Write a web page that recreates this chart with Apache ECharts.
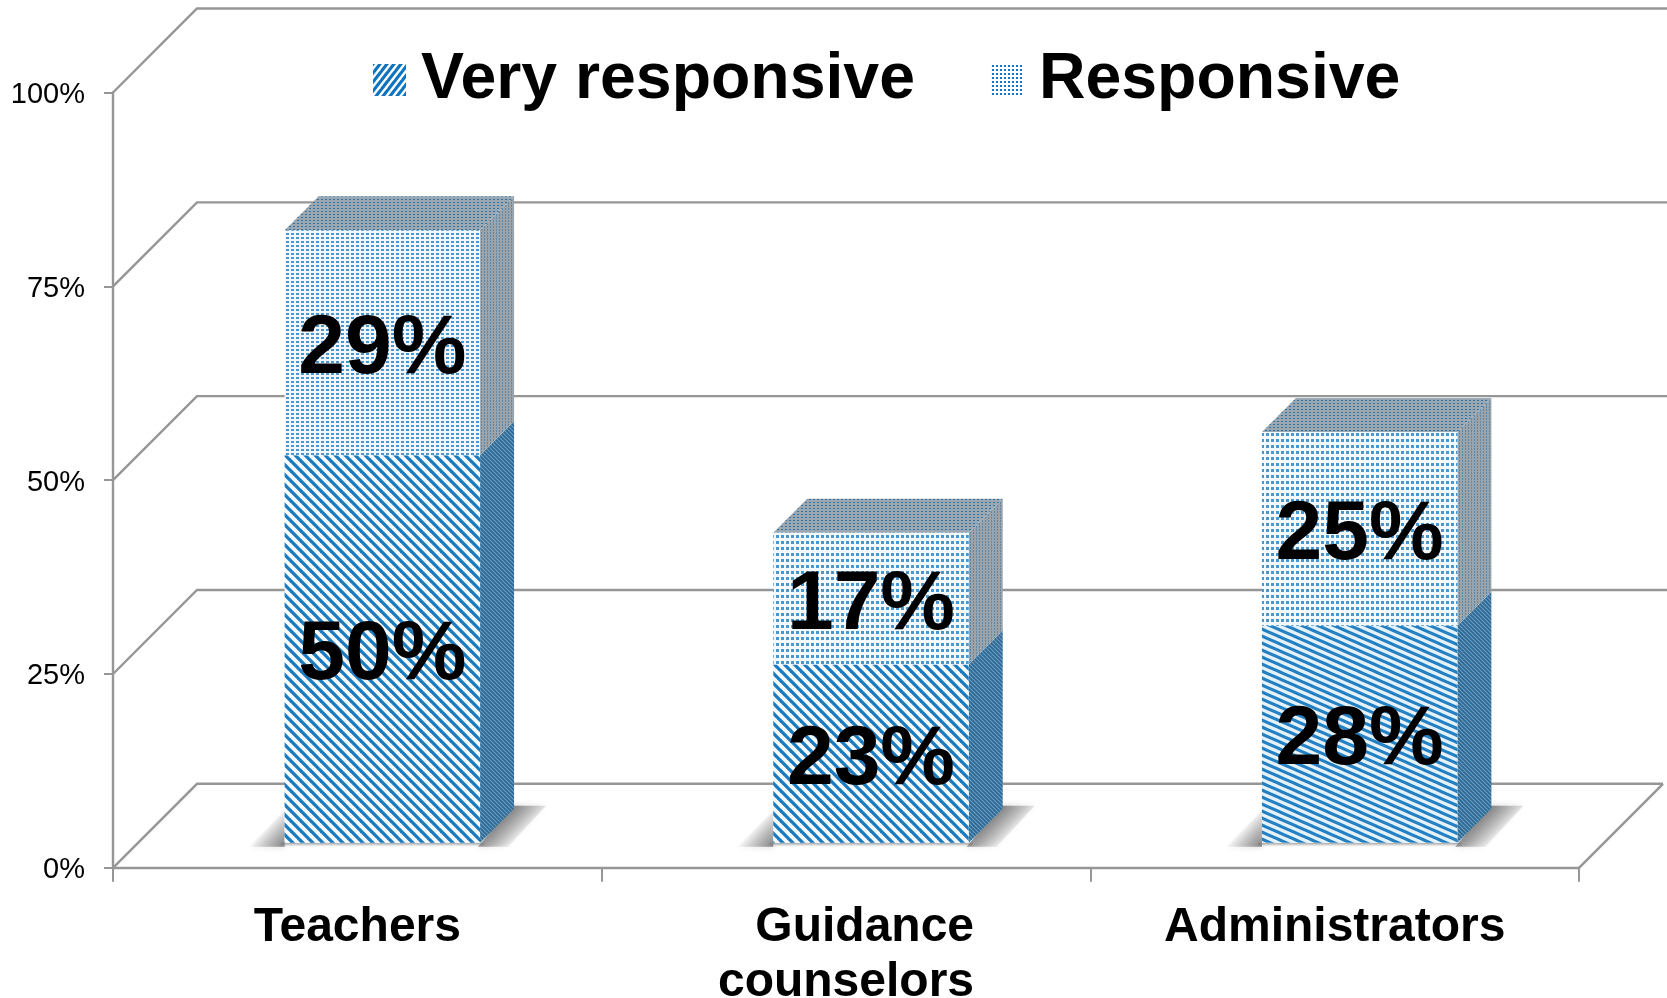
<!DOCTYPE html>
<html>
<head>
<meta charset="utf-8">
<title>Responsiveness</title>
<script src="https://cdn.jsdelivr.net/npm/echarts@6/dist/echarts.min.js"></script>
<style>
    html, body { margin: 0; padding: 0; background: #fff; }
    #chart { width: 1667px; height: 998px; }
</style>
</head>
<body>
<div id="chart"></div>
<script>
    const categories = ['Teachers', 'Guidance\ncounselors', 'Administrators']
    const veryResponsive = [50, 23, 28]
    const responsive = [29, 17, 25]
    const yTicks = [0, 25, 50, 75, 100]

    const FONT = '"Liberation Sans", Arial, sans-serif'
    const GREY = '#969696'
    const WALL_DEPTH = 84   // back wall offset
    const BAR_SHIFT = 25    // bars stand part way into the floor
    const BAR_DEPTH = 34

    // small repeating tiles for the hatched fills
    function tile(w, h, draw) {
        const c = document.createElement('canvas')
        c.width = w
        c.height = h
        draw(c.getContext('2d'), w, h)
        return { image: c, repeat: 'repeat' }
    }
    function stripes(w, h, color, back, lineW, dir) {
        return tile(w, h, (ctx) => {
            ctx.fillStyle = back
            ctx.fillRect(0, 0, w, h)
            ctx.strokeStyle = color
            ctx.lineWidth = lineW
            // lines run past the tile so the repeat has no seams
            for (let i = -3; i <= 3; i++) {
                ctx.beginPath()
                ctx.moveTo(i * w - dir * w, -h)
                ctx.lineTo(i * w + 2 * dir * w, 2 * h)
                ctx.stroke()
            }
        })
    }
    function dots(w, h, dotW, dotH, color, back) {
        return tile(w, h, (ctx) => {
            ctx.fillStyle = back
            ctx.fillRect(0, 0, w, h)
            ctx.fillStyle = color
            ctx.fillRect(1, 1, dotW, dotH)
        })
    }

    const lowerFront = [
        stripes(10, 10, '#1a7bc1', '#f6fafd', 3.3, 1),
        stripes(10, 10, '#1a7bc1', '#f6fafd', 3.3, 1),
        stripes(16, 7, '#2380c3', '#e6f2fa', 3, 1)
    ]
    const upperFront = [
        dots(5, 4, 3, 2, '#4a97cf', '#f1f7fc'),
        dots(5, 6, 3, 3, '#4a97cf', '#f4f9fd'),
        dots(5, 6, 3, 3, '#4a97cf', '#f4f9fd')
    ]
    const lowerSide = stripes(4, 4, '#2a6895', '#6f9cbe', 1.7, 1)
    const upperSide = dots(3, 3, 1, 2, '#5f87a6', '#9ba4ab')
    const upperTop = dots(4, 3, 2, 1, '#38709c', '#9aa8b4')
    const legendStripes = stripes(7, 9, '#0f74bd', '#ffffff', 3.2, -1)
    const legendDots = dots(4, 4, 2, 2, '#0f74bd', '#ffffff')

    function renderFrame(params, api) {
        const sys = params.coordSys
        const y = api.coord([0, api.value(1)])[1]
        const left = sys.x
        const right = sys.x + sys.width
        const isFloor = api.value(1) === 0
        const end = isFloor ? right + WALL_DEPTH : api.getWidth()
        const lineStyle = { stroke: GREY, lineWidth: 2.4, fill: null }
        const children = [{
            type: 'polyline',
            shape: { points: [[left, y], [left + WALL_DEPTH, y - WALL_DEPTH], [end, y - WALL_DEPTH]] },
            style: lineStyle
        }]
        if (isFloor) {
            children.push({
                type: 'line',
                shape: { x1: right, y1: y, x2: right + WALL_DEPTH, y2: y - WALL_DEPTH },
                style: lineStyle
            })
        }
        return { type: 'group', children }
    }

    function fade(x1, y1, x2, y2, alpha) {
        return new echarts.graphic.LinearGradient(x1, y1, x2, y2, [
            { offset: 0, color: 'rgba(115,115,115,' + alpha + ')' },
            { offset: 1, color: 'rgba(140,140,140,0)' }
        ], true)
    }

    function shadowParts(x0, x1, y) {
        const d = BAR_DEPTH
        const blur = { shadowBlur: 6, shadowColor: 'rgba(140,140,140,0.5)' }
        return [
            {   // left of the bar
                type: 'polygon',
                shape: { points: [[x0 - 36, y + 4], [x0, y - 32], [x0, y + 4]] },
                style: { fill: fade(x0, y + 2, x0 - 20, y - 16, 0.8), ...blur }
            },
            {   // thin strip under the bar
                type: 'rect',
                shape: { x: x0 - 4, y: y, width: x1 - x0 + 8, height: 4 },
                style: { fill: fade(0, y, 0, y + 4, 0.65) }
            },
            {   // right of the side face
                type: 'polygon',
                shape: { points: [[x1 - 2, y + 4], [x1 + d - 2, y - d - 3], [x1 + d + 32, y - d - 3], [x1 + 28, y + 4]] },
                style: { fill: fade(x1 + 16, y - 17, x1 + 36, y + 3, 0.8), ...blur }
            }
        ]
    }

    function makeBarRenderer(values, bases, frontFills, sideFill, topFill, withShadow) {
        return function (params, api) {
            const i = params.dataIndex
            const value = values[i]
            const base = bases ? bases[i] : 0
            const w = api.size([1, 0])[0] * 0.4
            const lowPt = api.coord([i, base])
            const highPt = api.coord([i, base + value])
            const x0 = lowPt[0] + BAR_SHIFT - w / 2
            const x1 = x0 + w
            const yLow = lowPt[1] - BAR_SHIFT
            const yHigh = highPt[1] - BAR_SHIFT
            const d = BAR_DEPTH
            const children = withShadow ? shadowParts(x0, x1, yLow) : []
            children.push({
                type: 'polygon',
                shape: { points: [[x1, yLow], [x1 + d, yLow - d], [x1 + d, yHigh - d], [x1, yHigh]] },
                style: { fill: sideFill }
            })
            if (topFill) {
                children.push({
                    type: 'polygon',
                    shape: { points: [[x0, yHigh], [x0 + d, yHigh - d], [x1 + d, yHigh - d], [x1, yHigh]] },
                    style: { fill: topFill }
                })
            }
            children.push({
                type: 'polygon',
                shape: { points: [[x0, yLow], [x0, yHigh], [x1, yHigh], [x1, yLow]] },
                style: { fill: frontFills[i] }
            })
            children.push({
                type: 'text',
                style: {
                    text: value + '%',
                    x: (x0 + x1) / 2,
                    y: (yLow + yHigh) / 2 + 7,
                    align: 'center',
                    verticalAlign: 'middle',
                    fill: '#000',
                    font: 'bold 84px ' + FONT
                },
                z2: 10
            })
            return { type: 'group', children }
        }
    }

    const myChart = echarts.init(document.getElementById('chart'), null, { renderer: 'canvas' })
    myChart.setOption({
        animation: false,
        backgroundColor: '#fff',
        legend: {
            left: 373,
            top: 48,
            padding: 0,
            itemWidth: 33,
            itemHeight: 32,
            itemGap: 76,
            selectedMode: false,
            icon: 'rect',
            textStyle: {
                fontFamily: FONT,
                fontWeight: 'bold',
                fontSize: 64.4,
                color: '#000',
                padding: [0, 0, 0, 10]
            },
            data: [
                { name: 'Very responsive', itemStyle: { color: legendStripes } },
                { name: 'Responsive', itemStyle: { color: legendDots } }
            ]
        },
        grid: { left: 113, right: 88, top: 92.5, height: 775.3, outerBoundsMode: 'none' },
        xAxis: {
            type: 'category',
            data: categories,
            axisLine: { lineStyle: { color: GREY, width: 2.4 } },
            axisTick: { show: true, length: 14, lineStyle: { color: GREY, width: 2 } },
            axisLabel: {
                interval: 0,
                margin: 32,
                color: '#000',
                fontFamily: FONT,
                fontWeight: 'bold',
                fontSize: 48,
                lineHeight: 55,
                formatter: (v) => v.split('\n').map((s) => '{a|' + s + '}').join('\n'),
                rich: {
                    a: {
                        align: 'right',
                        color: '#000',
                        fontFamily: FONT,
                        fontWeight: 'bold',
                        fontSize: 48,
                        lineHeight: 55
                    }
                }
            }
        },
        yAxis: {
            type: 'value',
            min: 0,
            max: 100,
            interval: 25,
            axisLine: { show: true, lineStyle: { color: GREY, width: 2.4 } },
            axisTick: { show: true, length: 9, lineStyle: { color: GREY, width: 2 } },
            splitLine: { show: false },
            axisLabel: {
                margin: 28,
                color: '#000',
                formatter: (v) => '{t|' + v + '%}',
                rich: {
                    t: {
                        color: '#000',
                        fontFamily: FONT,
                        fontSize: 29,
                        padding: [5, 0, 0, 0]
                    }
                }
            }
        },
        series: [
            {
                name: 'frame',
                type: 'custom',
                silent: true,
                clip: false,
                z: 1,
                encode: { x: 0, y: 1 },
                data: yTicks.map((v) => [0, v]),
                renderItem: renderFrame
            },
            {
                name: 'Very responsive',
                type: 'custom',
                silent: true,
                clip: false,
                z: 2,
                itemStyle: { color: legendStripes },
                encode: { x: 0, y: 1 },
                data: veryResponsive.map((v, i) => [i, v]),
                renderItem: makeBarRenderer(veryResponsive, null, lowerFront, lowerSide, null, true)
            },
            {
                name: 'Responsive',
                type: 'custom',
                silent: true,
                clip: false,
                z: 3,
                itemStyle: { color: legendDots },
                encode: { x: 0, y: 1 },
                data: responsive.map((v, i) => [i, v]),
                renderItem: makeBarRenderer(responsive, veryResponsive, upperFront, upperSide, upperTop, false)
            }
        ]
    })
</script>
</body>
</html>
